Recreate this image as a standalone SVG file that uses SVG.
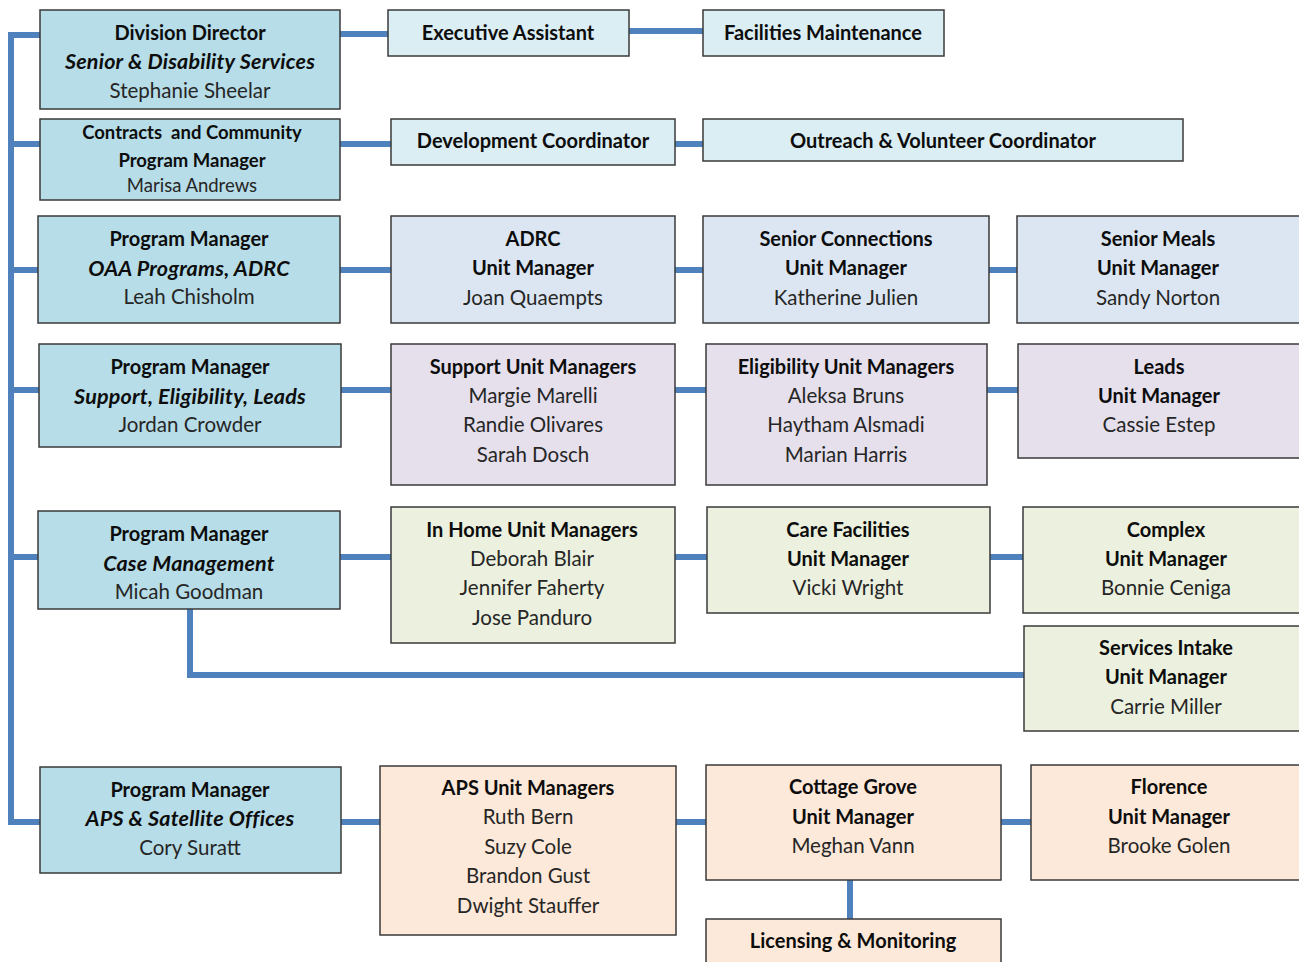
<svg xmlns="http://www.w3.org/2000/svg" width="1299" height="962" viewBox="0 0 1299 962">
<style>
text{font-family:Lato,"Liberation Sans",sans-serif;font-size:20.5px;text-anchor:middle;fill:#262626}
.b{font-weight:bold;fill:#0d0d0d;font-size:20px}
.bi{font-weight:bold;font-style:italic;fill:#0d0d0d;font-size:21.5px;letter-spacing:0.2px}
text.s{font-size:18.5px}
.box{stroke:#3a3a3a;stroke-width:1.5}
.pm{fill:#b7dde8}
.lt{fill:#dbeef4}
.bl{fill:#dce6f2}
.pu{fill:#e5e0ec}
.gr{fill:#ebf1de}
.or{fill:#fde9d9}
#connectors path{fill:none;stroke:#4f81bd;stroke-width:6}
</style>
<rect width="1299" height="962" fill="#fff"/>
<g id="connectors">
<path d="M40 35H11V822H40"/>
<path d="M11 144H40M11 270H38M11 390H39M11 557H38"/>
<path d="M340 34H388M629 31H703"/>
<path d="M340 144H391M675 144H703"/>
<path d="M340 270H391M675 270H703M989 270H1017"/>
<path d="M341 390H391M675 390H706M987 390H1018"/>
<path d="M340 557H391M675 557H707M990 557H1023"/>
<path d="M190 609V675H1024"/>
<path d="M341 822H380M676 822H706M1001 822H1031"/>
<path d="M850 880V919"/>
</g>
<g id="division-director"><rect class="box pm" x="40" y="10" width="300" height="99"/>
<text x="190" y="40" class="b">Division Director</text><text x="190" y="69" class="bi">Senior &amp; Disability Services</text><text x="190" y="98">Stephanie Sheelar</text></g>
<g id="executive-assistant"><rect class="box lt" x="388" y="10" width="241" height="46"/><text x="508" y="40" class="b">Executive Assistant</text></g>
<g id="facilities-maintenance"><rect class="box lt" x="703" y="10" width="241" height="46"/><text x="823" y="40" class="b">Facilities Maintenance</text></g>
<g id="contracts"><rect class="box pm" x="40" y="119" width="300" height="81"/>
<text x="192" y="139" class="b s">Contracts&#160; and Community</text><text x="192" y="167" class="b s">Program Manager</text><text x="192" y="192" class="s">Marisa Andrews</text></g>
<g id="development-coordinator"><rect class="box lt" x="391" y="119" width="284" height="46"/><text x="533" y="148" class="b">Development Coordinator</text></g>
<g id="outreach"><rect class="box lt" x="703" y="119" width="480" height="42"/><text x="943" y="148" class="b">Outreach &amp; Volunteer Coordinator</text></g>
<g id="pm-oaa"><rect class="box pm" x="38" y="216" width="302" height="107"/>
<text x="189" y="246" class="b">Program Manager</text><text x="189" y="276" class="bi">OAA Programs, ADRC</text><text x="189" y="304">Leah Chisholm</text></g>
<g id="adrc"><rect class="box bl" x="391" y="216" width="284" height="107"/>
<text x="533" y="246" class="b">ADRC</text><text x="533" y="275" class="b">Unit Manager</text><text x="533" y="305">Joan Quaempts</text></g>
<g id="senior-connections"><rect class="box bl" x="703" y="216" width="286" height="107"/>
<text x="846" y="246" class="b">Senior Connections</text><text x="846" y="275" class="b">Unit Manager</text><text x="846" y="305">Katherine Julien</text></g>
<g id="senior-meals"><rect class="box bl" x="1017" y="216" width="290" height="107"/>
<text x="1158" y="246" class="b">Senior Meals</text><text x="1158" y="275" class="b">Unit Manager</text><text x="1158" y="305">Sandy Norton</text></g>
<g id="pm-support"><rect class="box pm" x="39" y="344" width="302" height="103"/>
<text x="190" y="374" class="b">Program Manager</text><text x="190" y="404" class="bi">Support, Eligibility, Leads</text><text x="190" y="432">Jordan Crowder</text></g>
<g id="support-units"><rect class="box pu" x="391" y="344" width="284" height="141"/>
<text x="533" y="374" class="b">Support Unit Managers</text><text x="533" y="403">Margie Marelli</text><text x="533" y="432">Randie Olivares</text><text x="533" y="462">Sarah Dosch</text></g>
<g id="eligibility-units"><rect class="box pu" x="706" y="344" width="281" height="141"/>
<text x="846" y="374" class="b">Eligibility Unit Managers</text><text x="846" y="403">Aleksa Bruns</text><text x="846" y="432">Haytham Alsmadi</text><text x="846" y="462">Marian Harris</text></g>
<g id="leads"><rect class="box pu" x="1018" y="344" width="290" height="114"/>
<text x="1159" y="374" class="b">Leads</text><text x="1159" y="403" class="b">Unit Manager</text><text x="1159" y="432">Cassie Estep</text></g>
<g id="pm-case"><rect class="box pm" x="38" y="511" width="302" height="98"/>
<text x="189" y="541" class="b">Program Manager</text><text x="189" y="571" class="bi">Case Management</text><text x="189" y="599">Micah Goodman</text></g>
<g id="in-home"><rect class="box gr" x="391" y="507" width="284" height="136"/>
<text x="532" y="537" class="b">In Home Unit Managers</text><text x="532" y="566">Deborah Blair</text><text x="532" y="595">Jennifer Faherty</text><text x="532" y="625">Jose Panduro</text></g>
<g id="care-facilities"><rect class="box gr" x="707" y="507" width="283" height="106"/>
<text x="848" y="537" class="b">Care Facilities</text><text x="848" y="566" class="b">Unit Manager</text><text x="848" y="595">Vicki Wright</text></g>
<g id="complex"><rect class="box gr" x="1023" y="507" width="285" height="106"/>
<text x="1166" y="537" class="b">Complex</text><text x="1166" y="566" class="b">Unit Manager</text><text x="1166" y="595">Bonnie Ceniga</text></g>
<g id="services-intake"><rect class="box gr" x="1024" y="626" width="284" height="105"/>
<text x="1166" y="655" class="b">Services Intake</text><text x="1166" y="684" class="b">Unit Manager</text><text x="1166" y="714">Carrie Miller</text></g>
<g id="pm-aps"><rect class="box pm" x="40" y="767" width="301" height="106"/>
<text x="190" y="797" class="b">Program Manager</text><text x="190" y="826" class="bi">APS &amp; Satellite Offices</text><text x="190" y="855">Cory Suratt</text></g>
<g id="aps-units"><rect class="box or" x="380" y="766" width="296" height="169"/>
<text x="528" y="795" class="b">APS Unit Managers</text><text x="528" y="824">Ruth Bern</text><text x="528" y="854">Suzy Cole</text><text x="528" y="883">Brandon Gust</text><text x="528" y="913">Dwight Stauffer</text></g>
<g id="cottage-grove"><rect class="box or" x="706" y="765" width="295" height="115"/>
<text x="853" y="794" class="b">Cottage Grove</text><text x="853" y="824" class="b">Unit Manager</text><text x="853" y="853">Meghan Vann</text></g>
<g id="florence"><rect class="box or" x="1031" y="765" width="277" height="115"/>
<text x="1169" y="794" class="b">Florence</text><text x="1169" y="824" class="b">Unit Manager</text><text x="1169" y="853">Brooke Golen</text></g>
<g id="licensing"><rect class="box or" x="706" y="919" width="295" height="55"/>
<text x="853" y="948" class="b">Licensing &amp; Monitoring</text></g>
</svg>
